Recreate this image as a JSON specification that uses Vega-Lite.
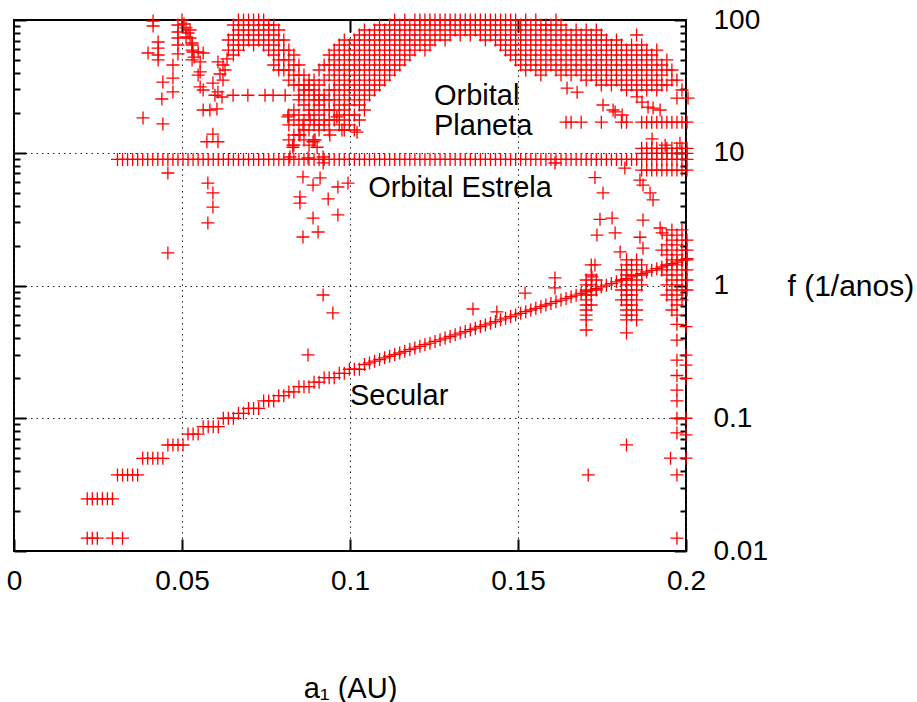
{
"$schema":"https://vega.github.io/schema/vega-lite/v6.json",
"width":672,"height":531,
"autosize":{"type":"none"},
"padding":{"left":14,"top":20,"right":231,"bottom":151},
"background":"white",
"config":{"view":{"stroke":"black","strokeWidth":2},"font":"Liberation Sans"},
"datasets":{
"lbl":[{"a":0.125,"f":22.9,"t":"Orbital"},{"a":0.125,"f":13.6,"t":"Planeta"},{"a":0.1054,"f":4.65,"t":"Orbital Estrela"},{"a":0.1,"f":0.126,"t":"Secular"}],
"pts":[
{"a":0.0308,"f":8.9},{"a":0.0323,"f":8.9},{"a":0.0338,"f":8.9},{"a":0.0353,"f":8.9},{"a":0.0368,"f":8.9},{"a":0.0383,"f":8.9},{"a":0.0398,"f":8.9},{"a":0.0413,"f":8.9},{"a":0.0428,"f":8.9},{"a":0.0443,"f":8.9},{"a":0.0458,"f":8.9},{"a":0.0473,"f":8.9},{"a":0.0488,"f":8.9},{"a":0.0503,"f":8.9},{"a":0.0518,"f":8.9},{"a":0.0533,"f":8.9},{"a":0.0548,"f":8.9},{"a":0.0563,"f":8.9},{"a":0.0578,"f":8.9},{"a":0.0593,"f":8.9},{"a":0.0608,"f":8.9},{"a":0.0623,"f":8.9},{"a":0.0638,"f":8.9},{"a":0.0653,"f":8.9},{"a":0.0668,"f":8.9},{"a":0.0683,"f":8.9},{"a":0.0698,"f":8.9},{"a":0.0713,"f":8.9},{"a":0.0728,"f":8.9},{"a":0.0743,"f":8.9},{"a":0.0758,"f":8.9},{"a":0.0773,"f":8.9},{"a":0.0788,"f":8.9},{"a":0.0803,"f":8.9},{"a":0.0818,"f":8.9},{"a":0.0833,"f":8.9},{"a":0.0848,"f":8.9},{"a":0.0863,"f":8.9},{"a":0.0878,"f":8.9},{"a":0.0893,"f":8.9},{"a":0.0908,"f":8.9},{"a":0.0923,"f":8.9},{"a":0.0938,"f":8.9},{"a":0.0953,"f":8.9},{"a":0.0968,"f":8.9},{"a":0.0983,"f":8.9},{"a":0.0998,"f":8.9},{"a":0.1013,"f":8.9},{"a":0.1028,"f":8.9},{"a":0.1043,"f":8.9},{"a":0.1058,"f":8.9},{"a":0.1073,"f":8.9},{"a":0.1088,"f":8.9},{"a":0.1103,"f":8.9},{"a":0.1118,"f":8.9},{"a":0.1133,"f":8.9},{"a":0.1148,"f":8.9},{"a":0.1163,"f":8.9},{"a":0.1178,"f":8.9},{"a":0.1193,"f":8.9},{"a":0.1208,"f":8.9},{"a":0.1223,"f":8.9},{"a":0.1238,"f":8.9},{"a":0.1253,"f":8.9},{"a":0.1268,"f":8.9},{"a":0.1283,"f":8.9},{"a":0.1298,"f":8.9},{"a":0.1313,"f":8.9},{"a":0.1328,"f":8.9},{"a":0.1343,"f":8.9},{"a":0.1358,"f":8.9},{"a":0.1373,"f":8.9},{"a":0.1388,"f":8.9},{"a":0.1403,"f":8.9},{"a":0.1418,"f":8.9},{"a":0.1433,"f":8.9},{"a":0.1448,"f":8.9},{"a":0.1463,"f":8.9},{"a":0.1478,"f":8.9},{"a":0.1493,"f":8.9},{"a":0.1508,"f":8.9},{"a":0.1523,"f":8.9},{"a":0.1538,"f":8.9},{"a":0.1553,"f":8.9},{"a":0.1568,"f":8.9},{"a":0.1583,"f":8.9},{"a":0.1598,"f":8.9},{"a":0.1613,"f":8.9},{"a":0.1628,"f":8.9},{"a":0.1643,"f":8.9},{"a":0.1658,"f":8.9},{"a":0.1673,"f":8.9},{"a":0.1688,"f":8.9},{"a":0.1703,"f":8.9},{"a":0.1718,"f":8.9},{"a":0.1733,"f":8.9},{"a":0.1748,"f":8.9},{"a":0.1763,"f":8.9},{"a":0.1778,"f":8.9},{"a":0.1793,"f":8.9},{"a":0.1808,"f":8.9},{"a":0.1823,"f":8.9},{"a":0.1838,"f":8.9},{"a":0.1853,"f":8.9},{"a":0.1868,"f":8.9},{"a":0.1883,"f":8.9},{"a":0.1898,"f":8.9},{"a":0.1913,"f":8.9},{"a":0.1928,"f":8.9},{"a":0.1943,"f":8.9},{"a":0.1958,"f":8.9},{"a":0.1973,"f":8.9},{"a":0.1988,"f":8.9},{"a":0.2003,"f":8.9},
{"a":0.0218,"f":0.0125},{"a":0.0233,"f":0.0125},{"a":0.0248,"f":0.0125},{"a":0.0293,"f":0.0125},{"a":0.0323,"f":0.0125},
{"a":0.0218,"f":0.0247},{"a":0.0233,"f":0.0247},{"a":0.0248,"f":0.0247},{"a":0.0263,"f":0.0247},{"a":0.0278,"f":0.0247},{"a":0.0293,"f":0.0247},
{"a":0.0308,"f":0.0374},{"a":0.0323,"f":0.0374},{"a":0.0338,"f":0.0374},{"a":0.0353,"f":0.0374},{"a":0.0368,"f":0.0374},
{"a":0.0383,"f":0.0499},{"a":0.0398,"f":0.0499},{"a":0.0413,"f":0.0499},{"a":0.0428,"f":0.0499},{"a":0.0443,"f":0.0499},
{"a":0.0458,"f":0.0629},{"a":0.0473,"f":0.0629},{"a":0.0488,"f":0.0629},{"a":0.0503,"f":0.0629},
{"a":0.0518,"f":0.076},{"a":0.0533,"f":0.076},{"a":0.0548,"f":0.076},
{"a":0.0563,"f":0.0864},{"a":0.0578,"f":0.0864},{"a":0.0593,"f":0.0864},{"a":0.0608,"f":0.0864},
{"a":0.0623,"f":0.1},{"a":0.0638,"f":0.1},{"a":0.0653,"f":0.1},
{"a":0.0668,"f":0.109},{"a":0.0683,"f":0.109},
{"a":0.0698,"f":0.1186},{"a":0.0713,"f":0.1186},{"a":0.0728,"f":0.1186},
{"a":0.0743,"f":0.135},{"a":0.0758,"f":0.135},{"a":0.0773,"f":0.135},
{"a":0.0788,"f":0.148},{"a":0.0803,"f":0.148},
{"a":0.0818,"f":0.158},{"a":0.0833,"f":0.158},
{"a":0.0848,"f":0.173},{"a":0.0863,"f":0.173},{"a":0.0878,"f":0.173},
{"a":0.0893,"f":0.187},{"a":0.0908,"f":0.187},
{"a":0.0923,"f":0.202},{"a":0.0938,"f":0.202},{"a":0.0953,"f":0.202},
{"a":0.0968,"f":0.218},{"a":0.0983,"f":0.218},
{"a":0.0998,"f":0.234},{"a":0.1013,"f":0.234},{"a":0.1028,"f":0.234},
{"a":0.1043,"f":0.254},{"a":0.1058,"f":0.261},{"a":0.1073,"f":0.269},{"a":0.1088,"f":0.277},{"a":0.1103,"f":0.285},{"a":0.1118,"f":0.293},{"a":0.1133,"f":0.302},{"a":0.1148,"f":0.31},{"a":0.1163,"f":0.319},{"a":0.1178,"f":0.329},{"a":0.1193,"f":0.338},{"a":0.1208,"f":0.348},{"a":0.1223,"f":0.358},{"a":0.1238,"f":0.368},{"a":0.1253,"f":0.379},{"a":0.1268,"f":0.39},{"a":0.1283,"f":0.402},{"a":0.1298,"f":0.413},{"a":0.1313,"f":0.425},{"a":0.1328,"f":0.438},{"a":0.1343,"f":0.45},{"a":0.1358,"f":0.464},{"a":0.1373,"f":0.477},{"a":0.1388,"f":0.491},{"a":0.1403,"f":0.505},{"a":0.1418,"f":0.52},{"a":0.1433,"f":0.535},{"a":0.1448,"f":0.551},{"a":0.1463,"f":0.567},{"a":0.1478,"f":0.583},{"a":0.1493,"f":0.6},{"a":0.1508,"f":0.617},{"a":0.1523,"f":0.635},{"a":0.1538,"f":0.654},{"a":0.1553,"f":0.673},{"a":0.1568,"f":0.693},{"a":0.1583,"f":0.713},{"a":0.1598,"f":0.733},{"a":0.1613,"f":0.755},{"a":0.1628,"f":0.777},{"a":0.1643,"f":0.799},{"a":0.1658,"f":0.823},{"a":0.1673,"f":0.846},{"a":0.1688,"f":0.871},{"a":0.1703,"f":0.897},{"a":0.1718,"f":0.923},{"a":0.1733,"f":0.949},{"a":0.1748,"f":0.977},{"a":0.1763,"f":1.005},{"a":0.1778,"f":1.034},{"a":0.1793,"f":1.065},{"a":0.1808,"f":1.095},{"a":0.1823,"f":1.127},{"a":0.1838,"f":1.16},{"a":0.1853,"f":1.194},{"a":0.1868,"f":1.228},{"a":0.1883,"f":1.264},{"a":0.1898,"f":1.301},{"a":0.1913,"f":1.339},{"a":0.1928,"f":1.378},{"a":0.1943,"f":1.418},{"a":0.1958,"f":1.459},{"a":0.1973,"f":1.502},{"a":0.1988,"f":1.545},{"a":0.2003,"f":1.59},
{"a":0.0414,"f":98.3},{"a":0.0414,"f":90.1},{"a":0.0429,"f":68.3},{"a":0.0429,"f":61.5},{"a":0.0399,"f":56.4},{"a":0.0429,"f":54.5},{"a":0.0429,"f":50},{"a":0.0443,"f":34.1},{"a":0.044,"f":25.4},{"a":0.0473,"f":45.8},{"a":0.0473,"f":36.5},{"a":0.0473,"f":28.7},{"a":0.0384,"f":18.3},{"a":0.0443,"f":16.5},{"a":0.0488,"f":91.7},{"a":0.0488,"f":81.2},{"a":0.0488,"f":73.2},{"a":0.0488,"f":64.8},{"a":0.0488,"f":55.5},{"a":0.05,"f":100},{"a":0.0506,"f":93.3},{"a":0.0512,"f":87.1},{"a":0.0518,"f":79.8},{"a":0.0512,"f":74.5},{"a":0.0524,"f":73.2},{"a":0.053,"f":64.8},{"a":0.0533,"f":57.4},{"a":0.0536,"f":52.6},{"a":0.0548,"f":57.4},{"a":0.0554,"f":48.3},{"a":0.0563,"f":56.4},{"a":0.0554,"f":40.6},{"a":0.0548,"f":38.5},{"a":0.0554,"f":31.3},{"a":0.0563,"f":29.7},{"a":0.0563,"f":21},{"a":0.0583,"f":21},{"a":0.0604,"f":21.4},{"a":0.0574,"f":12.1},{"a":0.0592,"f":13.8},{"a":0.0607,"f":12.1},{"a":0.0577,"f":5.91},{"a":0.0592,"f":4.98},{"a":0.0592,"f":3.9},{"a":0.0577,"f":2.96},{"a":0.0458,"f":7.04},{"a":0.0458,"f":1.76},{"a":0.0607,"f":48.3},{"a":0.0622,"f":45.8},{"a":0.0634,"f":50.9},{"a":0.0613,"f":39.2},{"a":0.0628,"f":42},{"a":0.0622,"f":35.3},{"a":0.0607,"f":28.7},{"a":0.0619,"f":26.3},{"a":0.0592,"f":33.5},{"a":0.0524,"f":84.1},{"a":0.053,"f":59.4},{"a":0.053,"f":50},{"a":0.053,"f":67.1},
{"a":0.0598,"f":27.1},{"a":0.0652,"f":27.1},{"a":0.0696,"f":27.1},{"a":0.0747,"f":27.1},{"a":0.0771,"f":27.1},{"a":0.0807,"f":27.1},
{"a":0.0638,"f":70.7},{"a":0.0638,"f":59.4},
{"a":0.0653,"f":91.7},{"a":0.0653,"f":77.1},{"a":0.0653,"f":64.8},{"a":0.0653,"f":54.5},
{"a":0.0668,"f":100},{"a":0.0668,"f":84.1},{"a":0.0668,"f":70.7},{"a":0.0668,"f":59.4},
{"a":0.0683,"f":100},{"a":0.0683,"f":91.7},{"a":0.0683,"f":77.1},{"a":0.0683,"f":64.8},
{"a":0.0698,"f":100},{"a":0.0698,"f":84.1},{"a":0.0698,"f":70.7},
{"a":0.0713,"f":100},{"a":0.0713,"f":91.7},{"a":0.0713,"f":77.1},{"a":0.0713,"f":64.8},
{"a":0.0728,"f":100},{"a":0.0728,"f":84.1},{"a":0.0728,"f":70.7},
{"a":0.0743,"f":100},{"a":0.0743,"f":91.7},{"a":0.0743,"f":77.1},{"a":0.0743,"f":64.8},
{"a":0.0758,"f":91.7},{"a":0.0758,"f":84.1},{"a":0.0758,"f":70.7},{"a":0.0758,"f":59.4},
{"a":0.0773,"f":91.7},{"a":0.0773,"f":77.1},{"a":0.0773,"f":64.8},{"a":0.0773,"f":54.5},{"a":0.0773,"f":45.8},
{"a":0.0788,"f":84.1},{"a":0.0788,"f":70.7},{"a":0.0788,"f":59.4},{"a":0.0788,"f":50},{"a":0.0788,"f":42},
{"a":0.0803,"f":70.7},{"a":0.0803,"f":59.4},{"a":0.0803,"f":50},{"a":0.0803,"f":42},
{"a":0.0818,"f":59.4},{"a":0.0818,"f":50},{"a":0.0818,"f":42},{"a":0.0818,"f":35.3},
{"a":0.0833,"f":54.5},{"a":0.0833,"f":45.8},{"a":0.0833,"f":38.5},{"a":0.0833,"f":32.4},
{"a":0.0848,"f":45.8},{"a":0.0848,"f":38.5},{"a":0.0848,"f":32.4},{"a":0.0848,"f":27.2},
{"a":0.0863,"f":38.5},{"a":0.0863,"f":32.4},{"a":0.0863,"f":27.2},{"a":0.0863,"f":22.9},
{"a":0.0878,"f":35.3},{"a":0.0878,"f":29.7},{"a":0.0878,"f":25},{"a":0.0878,"f":21},
{"a":0.0893,"f":29.7},{"a":0.0893,"f":25},{"a":0.0893,"f":21},{"a":0.0893,"f":17.65},
{"a":0.0908,"f":27.2},{"a":0.0908,"f":22.9},{"a":0.0908,"f":19.25},{"a":0.0908,"f":16.2},
{"a":0.0923,"f":25},{"a":0.0923,"f":21},{"a":0.0923,"f":17.65},
{"a":0.0938,"f":21},{"a":0.0938,"f":17.65},{"a":0.0938,"f":14.84},
{"a":0.0818,"f":19.25},{"a":0.0818,"f":16.2},{"a":0.0818,"f":12.5},
{"a":0.0833,"f":21},{"a":0.0833,"f":17.65},{"a":0.0833,"f":13.6},{"a":0.0833,"f":11.4},
{"a":0.0848,"f":25},{"a":0.0848,"f":19.25},{"a":0.0848,"f":16.2},{"a":0.0848,"f":13.6},
{"a":0.0863,"f":29.7},{"a":0.0863,"f":17.65},{"a":0.0863,"f":14.84},{"a":0.0863,"f":12.5},
{"a":0.0878,"f":32.4},{"a":0.0878,"f":19.25},{"a":0.0878,"f":14.84},{"a":0.0878,"f":11.4},
{"a":0.0893,"f":35.3},{"a":0.0893,"f":27.2},{"a":0.0893,"f":16.2},{"a":0.0893,"f":12.5},
{"a":0.0908,"f":42},{"a":0.0908,"f":32.4},{"a":0.0908,"f":25},{"a":0.0908,"f":14.84},
{"a":0.0923,"f":45.8},{"a":0.0923,"f":35.3},{"a":0.0923,"f":27.2},{"a":0.0923,"f":16.2},
{"a":0.0938,"f":54.5},{"a":0.0938,"f":45.8},{"a":0.0938,"f":38.5},{"a":0.0938,"f":29.7},{"a":0.0938,"f":25},
{"a":0.0953,"f":59.4},{"a":0.0953,"f":50},{"a":0.0953,"f":42},{"a":0.0953,"f":35.3},{"a":0.0953,"f":29.7},{"a":0.0953,"f":25},{"a":0.0953,"f":21},{"a":0.0953,"f":17.65},
{"a":0.0968,"f":64.8},{"a":0.0968,"f":54.5},{"a":0.0968,"f":45.8},{"a":0.0968,"f":38.5},{"a":0.0968,"f":32.4},{"a":0.0968,"f":27.2},{"a":0.0968,"f":22.9},{"a":0.0968,"f":19.25},{"a":0.0968,"f":16.2},
{"a":0.0983,"f":70.7},{"a":0.0983,"f":59.4},{"a":0.0983,"f":50},{"a":0.0983,"f":42},{"a":0.0983,"f":35.3},{"a":0.0983,"f":29.7},{"a":0.0983,"f":25},{"a":0.0983,"f":21},{"a":0.0983,"f":17.65},{"a":0.0983,"f":14.84},
{"a":0.0998,"f":64.8},{"a":0.0998,"f":54.5},{"a":0.0998,"f":45.8},{"a":0.0998,"f":38.5},{"a":0.0998,"f":32.4},{"a":0.0998,"f":27.2},{"a":0.0998,"f":22.9},{"a":0.0998,"f":19.25},{"a":0.0998,"f":16.2},
{"a":0.1013,"f":70.7},{"a":0.1013,"f":59.4},{"a":0.1013,"f":50},{"a":0.1013,"f":42},{"a":0.1013,"f":35.3},{"a":0.1013,"f":29.7},{"a":0.1013,"f":25},{"a":0.1013,"f":19.25},{"a":0.1013,"f":14.84},
{"a":0.1028,"f":77.1},{"a":0.1028,"f":64.8},{"a":0.1028,"f":54.5},{"a":0.1028,"f":45.8},{"a":0.1028,"f":38.5},{"a":0.1028,"f":32.4},{"a":0.1028,"f":27.2},{"a":0.1028,"f":22.9},{"a":0.1028,"f":17.65},
{"a":0.1043,"f":84.1},{"a":0.1043,"f":70.7},{"a":0.1043,"f":59.4},{"a":0.1043,"f":50},{"a":0.1043,"f":42},{"a":0.1043,"f":35.3},{"a":0.1043,"f":29.7},{"a":0.1043,"f":25},{"a":0.1043,"f":21},
{"a":0.1058,"f":77.1},{"a":0.1058,"f":64.8},{"a":0.1058,"f":54.5},{"a":0.1058,"f":45.8},{"a":0.1058,"f":38.5},{"a":0.1058,"f":32.4},{"a":0.1058,"f":27.2},
{"a":0.1073,"f":84.1},{"a":0.1073,"f":70.7},{"a":0.1073,"f":59.4},{"a":0.1073,"f":50},{"a":0.1073,"f":42},{"a":0.1073,"f":35.3},{"a":0.1073,"f":29.7},
{"a":0.1088,"f":91.7},{"a":0.1088,"f":77.1},{"a":0.1088,"f":64.8},{"a":0.1088,"f":54.5},{"a":0.1088,"f":45.8},{"a":0.1088,"f":38.5},{"a":0.1088,"f":32.4},
{"a":0.1103,"f":84.1},{"a":0.1103,"f":70.7},{"a":0.1103,"f":59.4},{"a":0.1103,"f":50},{"a":0.1103,"f":42},{"a":0.1103,"f":35.3},
{"a":0.1118,"f":91.7},{"a":0.1118,"f":77.1},{"a":0.1118,"f":64.8},{"a":0.1118,"f":54.5},{"a":0.1118,"f":45.8},{"a":0.1118,"f":38.5},
{"a":0.1133,"f":100},{"a":0.1133,"f":84.1},{"a":0.1133,"f":70.7},{"a":0.1133,"f":59.4},{"a":0.1133,"f":50},{"a":0.1133,"f":42},
{"a":0.1148,"f":91.7},{"a":0.1148,"f":77.1},{"a":0.1148,"f":64.8},{"a":0.1148,"f":54.5},{"a":0.1148,"f":45.8},
{"a":0.1163,"f":100},{"a":0.1163,"f":84.1},{"a":0.1163,"f":70.7},{"a":0.1163,"f":59.4},{"a":0.1163,"f":50},
{"a":0.1178,"f":91.7},{"a":0.1178,"f":77.1},{"a":0.1178,"f":64.8},{"a":0.1178,"f":54.5},
{"a":0.1193,"f":100},{"a":0.1193,"f":84.1},{"a":0.1193,"f":70.7},{"a":0.1193,"f":59.4},
{"a":0.1208,"f":100},{"a":0.1208,"f":91.7},{"a":0.1208,"f":77.1},{"a":0.1208,"f":64.8},
{"a":0.1223,"f":100},{"a":0.1223,"f":84.1},{"a":0.1223,"f":70.7},{"a":0.1223,"f":59.4},
{"a":0.1238,"f":100},{"a":0.1238,"f":91.7},{"a":0.1238,"f":77.1},{"a":0.1238,"f":64.8},
{"a":0.1253,"f":100},{"a":0.1253,"f":84.1},{"a":0.1253,"f":70.7},
{"a":0.1268,"f":100},{"a":0.1268,"f":91.7},{"a":0.1268,"f":77.1},
{"a":0.1283,"f":100},{"a":0.1283,"f":84.1},{"a":0.1283,"f":70.7},
{"a":0.1298,"f":100},{"a":0.1298,"f":91.7},{"a":0.1298,"f":77.1},
{"a":0.1313,"f":100},{"a":0.1313,"f":84.1},
{"a":0.1328,"f":100},{"a":0.1328,"f":91.7},{"a":0.1328,"f":77.1},
{"a":0.1343,"f":100},{"a":0.1343,"f":84.1},
{"a":0.1358,"f":100},{"a":0.1358,"f":91.7},{"a":0.1358,"f":77.1},
{"a":0.1373,"f":100},{"a":0.1373,"f":84.1},
{"a":0.1388,"f":100},{"a":0.1388,"f":91.7},{"a":0.1388,"f":77.1},
{"a":0.1403,"f":100},{"a":0.1403,"f":84.1},{"a":0.1403,"f":70.7},
{"a":0.1418,"f":100},{"a":0.1418,"f":91.7},{"a":0.1418,"f":77.1},
{"a":0.1433,"f":100},{"a":0.1433,"f":84.1},{"a":0.1433,"f":70.7},
{"a":0.1448,"f":100},{"a":0.1448,"f":91.7},{"a":0.1448,"f":77.1},{"a":0.1448,"f":64.8},
{"a":0.1463,"f":100},{"a":0.1463,"f":84.1},{"a":0.1463,"f":70.7},{"a":0.1463,"f":59.4},
{"a":0.1478,"f":100},{"a":0.1478,"f":91.7},{"a":0.1478,"f":77.1},{"a":0.1478,"f":64.8},{"a":0.1478,"f":54.5},
{"a":0.1493,"f":100},{"a":0.1493,"f":84.1},{"a":0.1493,"f":70.7},{"a":0.1493,"f":59.4},{"a":0.1493,"f":50},
{"a":0.1508,"f":91.7},{"a":0.1508,"f":77.1},{"a":0.1508,"f":64.8},{"a":0.1508,"f":54.5},{"a":0.1508,"f":45.8},
{"a":0.1523,"f":100},{"a":0.1523,"f":84.1},{"a":0.1523,"f":70.7},{"a":0.1523,"f":59.4},{"a":0.1523,"f":50},{"a":0.1523,"f":42},
{"a":0.1538,"f":91.7},{"a":0.1538,"f":77.1},{"a":0.1538,"f":64.8},{"a":0.1538,"f":54.5},{"a":0.1538,"f":45.8},
{"a":0.1553,"f":100},{"a":0.1553,"f":84.1},{"a":0.1553,"f":70.7},{"a":0.1553,"f":59.4},{"a":0.1553,"f":50},{"a":0.1553,"f":42},
{"a":0.1568,"f":91.7},{"a":0.1568,"f":77.1},{"a":0.1568,"f":64.8},{"a":0.1568,"f":54.5},{"a":0.1568,"f":45.8},{"a":0.1568,"f":38.5},
{"a":0.1583,"f":91.7},{"a":0.1583,"f":84.1},{"a":0.1583,"f":70.7},{"a":0.1583,"f":59.4},{"a":0.1583,"f":50},{"a":0.1583,"f":42},
{"a":0.1598,"f":91.7},{"a":0.1598,"f":77.1},{"a":0.1598,"f":64.8},{"a":0.1598,"f":54.5},{"a":0.1598,"f":45.8},
{"a":0.1613,"f":100},{"a":0.1613,"f":84.1},{"a":0.1613,"f":70.7},{"a":0.1613,"f":59.4},{"a":0.1613,"f":50},{"a":0.1613,"f":42},
{"a":0.1628,"f":91.7},{"a":0.1628,"f":77.1},{"a":0.1628,"f":64.8},{"a":0.1628,"f":54.5},{"a":0.1628,"f":45.8},{"a":0.1628,"f":38.5},
{"a":0.1643,"f":84.1},{"a":0.1643,"f":70.7},{"a":0.1643,"f":59.4},{"a":0.1643,"f":50},{"a":0.1643,"f":42},
{"a":0.1658,"f":77.1},{"a":0.1658,"f":64.8},{"a":0.1658,"f":54.5},{"a":0.1658,"f":45.8},{"a":0.1658,"f":38.5},
{"a":0.1673,"f":84.1},{"a":0.1673,"f":70.7},{"a":0.1673,"f":59.4},{"a":0.1673,"f":50},{"a":0.1673,"f":42},
{"a":0.1688,"f":77.1},{"a":0.1688,"f":64.8},{"a":0.1688,"f":54.5},{"a":0.1688,"f":45.8},{"a":0.1688,"f":38.5},
{"a":0.1703,"f":84.1},{"a":0.1703,"f":70.7},{"a":0.1703,"f":59.4},{"a":0.1703,"f":50},{"a":0.1703,"f":42},{"a":0.1703,"f":35.3},
{"a":0.1718,"f":77.1},{"a":0.1718,"f":64.8},{"a":0.1718,"f":54.5},{"a":0.1718,"f":45.8},{"a":0.1718,"f":38.5},
{"a":0.1733,"f":84.1},{"a":0.1733,"f":70.7},{"a":0.1733,"f":59.4},{"a":0.1733,"f":50},{"a":0.1733,"f":42},{"a":0.1733,"f":35.3},
{"a":0.1748,"f":77.1},{"a":0.1748,"f":64.8},{"a":0.1748,"f":54.5},{"a":0.1748,"f":45.8},{"a":0.1748,"f":38.5},{"a":0.1748,"f":32.4},
{"a":0.1763,"f":70.7},{"a":0.1763,"f":59.4},{"a":0.1763,"f":50},{"a":0.1763,"f":42},{"a":0.1763,"f":35.3},
{"a":0.1778,"f":64.8},{"a":0.1778,"f":54.5},{"a":0.1778,"f":45.8},{"a":0.1778,"f":38.5},{"a":0.1778,"f":32.4},
{"a":0.1793,"f":70.7},{"a":0.1793,"f":59.4},{"a":0.1793,"f":50},{"a":0.1793,"f":42},{"a":0.1793,"f":35.3},
{"a":0.1808,"f":64.8},{"a":0.1808,"f":54.5},{"a":0.1808,"f":45.8},{"a":0.1808,"f":38.5},{"a":0.1808,"f":32.4},
{"a":0.1823,"f":59.4},{"a":0.1823,"f":50},{"a":0.1823,"f":42},{"a":0.1823,"f":35.3},{"a":0.1823,"f":29.7},
{"a":0.1838,"f":64.8},{"a":0.1838,"f":54.5},{"a":0.1838,"f":45.8},{"a":0.1838,"f":38.5},{"a":0.1838,"f":32.4},
{"a":0.1853,"f":77.1},{"a":0.1853,"f":59.4},{"a":0.1853,"f":50},{"a":0.1853,"f":42},{"a":0.1853,"f":35.3},{"a":0.1853,"f":29.7},
{"a":0.1868,"f":64.8},{"a":0.1868,"f":54.5},{"a":0.1868,"f":45.8},{"a":0.1868,"f":38.5},{"a":0.1868,"f":32.4},
{"a":0.1883,"f":59.4},{"a":0.1883,"f":50},{"a":0.1883,"f":42},{"a":0.1883,"f":35.3},{"a":0.1883,"f":29.7},
{"a":0.1898,"f":54.5},{"a":0.1898,"f":45.8},{"a":0.1898,"f":38.5},{"a":0.1898,"f":32.4},
{"a":0.1913,"f":59.4},{"a":0.1913,"f":50},{"a":0.1913,"f":42},{"a":0.1913,"f":35.3},{"a":0.1913,"f":29.7},
{"a":0.1928,"f":45.8},{"a":0.1928,"f":38.5},{"a":0.1928,"f":32.4},
{"a":0.1943,"f":50},{"a":0.1943,"f":42},{"a":0.1943,"f":32.4},
{"a":0.1958,"f":42},{"a":0.1958,"f":35.3},
{"a":0.1973,"f":35.3},{"a":0.1988,"f":29.7},
{"a":0.1646,"f":30.7},{"a":0.1676,"f":28.6},{"a":0.1753,"f":22.9},{"a":0.1783,"f":21},{"a":0.1789,"f":20.3},{"a":0.181,"f":19.25},{"a":0.1854,"f":26.4},{"a":0.1869,"f":24.1},{"a":0.1887,"f":22.1},{"a":0.1902,"f":21.7},{"a":0.1923,"f":21},{"a":0.1973,"f":25.8},{"a":0.2006,"f":25.8},{"a":0.1899,"f":12.7},{"a":0.1938,"f":11.4},{"a":0.1982,"f":11.8},
{"a":0.1643,"f":17},{"a":0.1658,"f":17},{"a":0.1688,"f":17},{"a":0.1748,"f":17},{"a":0.1808,"f":17},{"a":0.1823,"f":17},{"a":0.1868,"f":17},{"a":0.1883,"f":17},{"a":0.1898,"f":17},{"a":0.1913,"f":17},{"a":0.1928,"f":17},{"a":0.1943,"f":17},{"a":0.1958,"f":17},{"a":0.1973,"f":17},{"a":0.1988,"f":17},{"a":0.2003,"f":17},
{"a":0.1868,"f":10.8},{"a":0.1883,"f":10.8},{"a":0.1898,"f":10.8},{"a":0.1913,"f":10.8},{"a":0.1928,"f":10.8},{"a":0.1943,"f":10.8},{"a":0.1958,"f":10.8},{"a":0.1973,"f":10.8},{"a":0.1988,"f":10.8},{"a":0.2003,"f":10.8},
{"a":0.1868,"f":9.9},{"a":0.1883,"f":9.9},{"a":0.1898,"f":9.9},{"a":0.1913,"f":9.9},{"a":0.1928,"f":9.9},{"a":0.1943,"f":9.9},{"a":0.1958,"f":9.9},{"a":0.1973,"f":9.9},{"a":0.1988,"f":9.9},{"a":0.2003,"f":9.9},
{"a":0.1868,"f":7.4},{"a":0.1883,"f":7.4},{"a":0.1898,"f":7.4},{"a":0.1913,"f":7.4},{"a":0.1928,"f":7.4},{"a":0.1943,"f":7.4},{"a":0.1958,"f":7.4},{"a":0.1973,"f":7.4},{"a":0.1988,"f":7.4},{"a":0.2003,"f":7.4},
{"a":0.1729,"f":6.5},{"a":0.1753,"f":4.98},{"a":0.1744,"f":3.15},{"a":0.178,"f":3.22},{"a":0.1735,"f":2.4},{"a":0.1789,"f":2.49},{"a":0.1804,"f":1.79},{"a":0.1872,"f":3.11},{"a":0.1863,"f":2.31},{"a":0.1872,"f":1.91},{"a":0.1923,"f":2.71},{"a":0.1929,"f":2.49},{"a":0.1863,"f":6.23},{"a":0.1872,"f":5.71},{"a":0.1893,"f":4.98},{"a":0.1902,"f":4.41},{"a":0.1818,"f":7.67},{"a":0.161,"f":8.37},{"a":0.1729,"f":1.43},{"a":0.172,"f":1.16},{"a":0.161,"f":1.14},{"a":0.161,"f":0.958},{"a":0.1521,"f":0.877},{"a":0.1366,"f":0.665},{"a":0.1437,"f":0.632},
{"a":0.1703,"f":1.1},{"a":0.1703,"f":1.01},{"a":0.1703,"f":0.925},{"a":0.1703,"f":0.848},{"a":0.1703,"f":0.778},{"a":0.1703,"f":0.713},{"a":0.1703,"f":0.654},{"a":0.1703,"f":0.599},{"a":0.1703,"f":0.55},{"a":0.1703,"f":0.462},
{"a":0.1718,"f":1.43},{"a":0.1718,"f":1.2},{"a":0.1718,"f":1.01},{"a":0.1718,"f":0.848},{"a":0.1718,"f":0.713},
{"a":0.1733,"f":1.1},{"a":0.1733,"f":0.925},
{"a":0.1808,"f":1.31},{"a":0.1808,"f":1.1},{"a":0.1808,"f":0.925},{"a":0.1808,"f":0.778},
{"a":0.1823,"f":1.56},{"a":0.1823,"f":1.43},{"a":0.1823,"f":1.31},{"a":0.1823,"f":1.2},{"a":0.1823,"f":1.1},{"a":0.1823,"f":1.01},{"a":0.1823,"f":0.925},{"a":0.1823,"f":0.848},{"a":0.1823,"f":0.778},{"a":0.1823,"f":0.713},{"a":0.1823,"f":0.654},{"a":0.1823,"f":0.599},{"a":0.1823,"f":0.55},{"a":0.1823,"f":0.439},
{"a":0.1838,"f":1.43},{"a":0.1838,"f":1.2},{"a":0.1838,"f":1.01},{"a":0.1838,"f":0.848},{"a":0.1838,"f":0.713},{"a":0.1838,"f":0.599},
{"a":0.1853,"f":1.56},{"a":0.1853,"f":1.31},{"a":0.1853,"f":1.1},{"a":0.1853,"f":0.925},{"a":0.1853,"f":0.778},{"a":0.1853,"f":0.654},{"a":0.1853,"f":0.55},
{"a":0.1868,"f":1.43},{"a":0.1868,"f":1.2},{"a":0.1868,"f":1.01},
{"a":0.1928,"f":1.85},{"a":0.1928,"f":1.31},
{"a":0.1943,"f":2.4},{"a":0.1943,"f":2.02},{"a":0.1943,"f":1.7},{"a":0.1943,"f":1.43},{"a":0.1943,"f":1.2},{"a":0.1943,"f":1.01},{"a":0.1943,"f":0.848},
{"a":0.1958,"f":2.62},{"a":0.1958,"f":2.2},{"a":0.1958,"f":1.85},{"a":0.1958,"f":1.56},{"a":0.1958,"f":1.31},{"a":0.1958,"f":1.1},{"a":0.1958,"f":0.925},{"a":0.1958,"f":0.778},{"a":0.1958,"f":0.654},
{"a":0.1973,"f":2.4},{"a":0.1973,"f":2.02},{"a":0.1973,"f":1.7},{"a":0.1973,"f":1.43},{"a":0.1973,"f":1.2},{"a":0.1973,"f":1.01},{"a":0.1973,"f":0.848},{"a":0.1973,"f":0.713},{"a":0.1973,"f":0.599},
{"a":0.1988,"f":2.62},{"a":0.1988,"f":2.2},{"a":0.1988,"f":1.85},{"a":0.1988,"f":1.56},{"a":0.1988,"f":1.31},{"a":0.1988,"f":1.1},{"a":0.1988,"f":0.925},{"a":0.1988,"f":0.778},
{"a":0.2003,"f":2.2},{"a":0.2003,"f":1.85},{"a":0.2003,"f":1.56},{"a":0.2003,"f":1.31},{"a":0.2003,"f":1.1},{"a":0.2003,"f":0.925},
{"a":0.1973,"f":0.51},{"a":0.1973,"f":0.388},{"a":0.1973,"f":0.274},{"a":0.1973,"f":0.21},{"a":0.1973,"f":0.163},{"a":0.1973,"f":0.135},{"a":0.1973,"f":0.1},{"a":0.1973,"f":0.0775},{"a":0.1973,"f":0.0374},{"a":0.1973,"f":0.0125},
{"a":0.2,"f":0.49},{"a":0.2,"f":0.299},{"a":0.2,"f":0.251},{"a":0.2,"f":0.2},{"a":0.2,"f":0.1},{"a":0.2,"f":0.075},{"a":0.2,"f":0.05},
{"a":0.1823,"f":0.063},{"a":0.1954,"f":0.05},{"a":0.1709,"f":0.0374},
{"a":0.0815,"f":18.6},{"a":0.0881,"f":17.65},{"a":0.086,"f":16.2},{"a":0.0851,"f":13.6},{"a":0.083,"f":11.4},{"a":0.0821,"f":9.29},{"a":0.0875,"f":9.13},{"a":0.092,"f":9.29},{"a":0.092,"f":8.38},{"a":0.086,"f":6.57},{"a":0.0911,"f":6.46},{"a":0.089,"f":5.71},{"a":0.0964,"f":5.52},{"a":0.0994,"f":5.91},{"a":0.0851,"f":4.65},{"a":0.0851,"f":4.18},{"a":0.0935,"f":4.49},{"a":0.0964,"f":3.4},{"a":0.089,"f":3.22},{"a":0.0905,"f":2.53},{"a":0.086,"f":2.32},{"a":0.0961,"f":18.6},{"a":0.0976,"f":14.84},{"a":0.1021,"f":14.3},{"a":0.089,"f":12.1},{"a":0.094,"f":13.6},{"a":0.092,"f":0.848},{"a":0.0949,"f":0.621},{"a":0.0875,"f":0.3},{"a":0.083,"f":11},{"a":0.0896,"f":12.5},{"a":0.0902,"f":11}
]},
"layer":[
{"data":{"name":"pts"},
 "mark":{"type":"point","shape":"M-1,0H1M0,-1V1","filled":false,"stroke":"#ff0000","strokeWidth":1.3,"size":169,"opacity":1},
 "encoding":{
  "x":{"field":"a","type":"quantitative","scale":{"domain":[0,0.2],"nice":false,"zero":false},
   "axis":{"orient":"bottom","values":[0,0.05,0.1,0.15,0.2],"format":"~g","labelFlush":false,"labelOverlap":false,"labelFontSize":28,"labelPadding":28,"labelColor":"black","tickSize":-12,"tickWidth":2,"tickColor":"black","domain":false,"grid":true,"gridDash":[1.5,4],"gridColor":"#222","gridWidth":1,"title":"a₁ (AU)","titleFontSize":29,"titleFontWeight":"normal","titleColor":"black","titleX":336,"titleY":146,"titleAlign":"center","titleBaseline":"alphabetic"}},
  "y":{"field":"f","type":"quantitative","scale":{"type":"log","domain":[0.01,100],"nice":false},
   "axis":{"orient":"left","values":[0.01,0.02,0.03,0.04,0.05,0.06,0.07,0.08,0.09,0.1,0.2,0.3,0.4,0.5,0.6,0.7,0.8,0.9,1,2,3,4,5,6,7,8,9,10,20,30,40,50,60,70,80,90,100],"labels":false,
    "tickSize":{"condition":{"test":"datum.value == 0.01 || datum.value == 0.1 || datum.value == 1 || datum.value == 10 || datum.value == 100","value":-12},"value":-6},
    "tickWidth":2,"tickColor":"black","domain":false,"grid":true,
    "gridOpacity":{"condition":{"test":"datum.value == 0.1 || datum.value == 1 || datum.value == 10","value":1},"value":0},
    "gridDash":[1.5,4],"gridColor":"#222","gridWidth":1,"title":null}}
 }},
{"data":{"name":"lbl"},
 "mark":{"type":"text","align":"left","baseline":"alphabetic","fontSize":29,"color":"black"},
 "encoding":{
  "x":{"field":"a","type":"quantitative","scale":{"domain":[0,0.2],"nice":false,"zero":false},
   "axis":{"orient":"top","values":[0.05,0.1,0.15],"labels":false,"tickSize":-12,"tickWidth":2,"tickColor":"black","domain":false,"grid":false,"title":null}},
  "y":{"field":"f","type":"quantitative","scale":{"type":"log","domain":[0.01,100],"nice":false},
   "axis":{"orient":"right","values":[0.01,0.02,0.03,0.04,0.05,0.06,0.07,0.08,0.09,0.1,0.2,0.3,0.4,0.5,0.6,0.7,0.8,0.9,1,2,3,4,5,6,7,8,9,10,20,30,40,50,60,70,80,90,100],
    "format":"~g","labelExpr":"(datum.value == 0.01 || datum.value == 0.1 || datum.value == 1 || datum.value == 10 || datum.value == 100) ? datum.label : ''",
    "labelFontSize":28,"labelPadding":39,"labelColor":"black","labelOverlap":false,"labelAlign":"left","labelBaseline":"middle",
    "tickSize":{"condition":{"test":"datum.value == 0.01 || datum.value == 0.1 || datum.value == 1 || datum.value == 10 || datum.value == 100","value":-12},"value":-6},
    "tickWidth":2,"tickColor":"black","domain":false,"grid":false,
    "title":"f (1/anos)","titleAngle":0,"titleFontSize":30,"titleFontWeight":"normal","titleColor":"black","titleX":101,"titleY":266,"titleAlign":"left","titleBaseline":"middle"}},
  "text":{"field":"t"}
 }}
],
"resolve":{"axis":{"x":"independent","y":"independent"}}
}
